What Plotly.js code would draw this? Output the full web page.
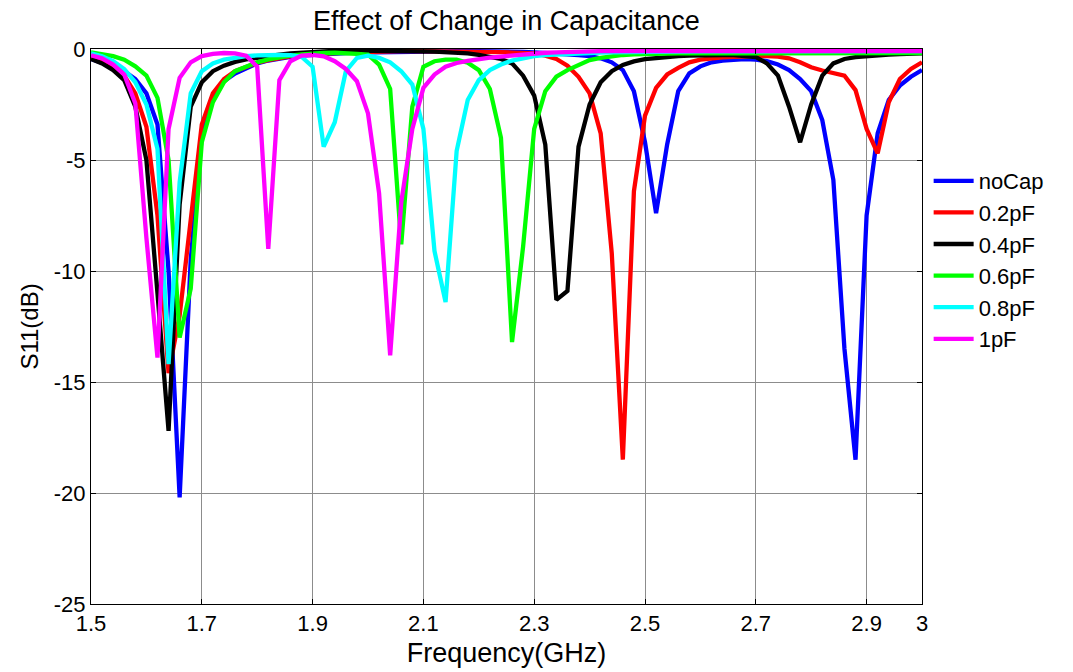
<!DOCTYPE html>
<html>
<head>
<meta charset="utf-8">
<script src="https://cdn.plot.ly/plotly-3.0.1.min.js"></script>
<style>
  html, body { margin: 0; padding: 0; background: #ffffff; }
  #chart { width: 1073px; height: 672px; }
</style>
</head>
<body>
<div id="chart"></div>
<script>
// Frequency grid (GHz)
const freq = [1.50,1.52,1.54,1.56,1.58,1.60,1.62,1.64,1.66,1.68,1.70,1.72,1.74,1.76,1.78,1.80,1.82,1.84,1.86,1.88,
  1.90,1.92,1.94,1.96,1.98,2.00,2.02,2.04,2.06,2.08,2.10,2.12,2.14,2.16,2.18,2.20,2.22,2.24,2.26,2.28,
  2.30,2.32,2.34,2.36,2.38,2.40,2.42,2.44,2.46,2.48,2.50,2.52,2.54,2.56,2.58,2.60,2.62,2.64,2.66,2.68,
  2.70,2.72,2.74,2.76,2.78,2.80,2.82,2.84,2.86,2.88,2.90,2.92,2.94,2.96,2.98,3.00];

const seriesNames = ["noCap", "0.2pF", "0.4pF", "0.6pF", "0.8pF", "1pF"];

const noCap = [-0.45,-0.6,-0.8,-1.0,-1.35,-2.0,-3.4,-10.0,-20.2,-9.5,
  -3.9,-2.2,-1.45,-1.1,-0.85,-0.65,-0.52,-0.42,-0.35,-0.3,
  -0.26,-0.23,-0.2,-0.18,-0.16,-0.15,-0.13,-0.12,-0.11,-0.1,
  -0.1,-0.09,-0.09,-0.09,-0.09,-0.1,-0.1,-0.11,-0.12,-0.13,
  -0.15,-0.17,-0.2,-0.23,-0.27,-0.32,-0.42,-0.6,-0.95,-1.9,
  -4.2,-7.4,-4.3,-1.9,-1.1,-0.78,-0.6,-0.52,-0.48,-0.46,
  -0.48,-0.55,-0.7,-0.95,-1.35,-1.9,-3.2,-5.9,-13.5,-18.5,
  -7.5,-3.8,-2.3,-1.65,-1.25,-0.95];

const cap02 = [-0.4,-0.55,-0.8,-1.2,-2.0,-3.5,-7.5,-14.6,-12.0,-7.5,
  -3.4,-2.0,-1.35,-1.0,-0.8,-0.62,-0.5,-0.4,-0.33,-0.27,
  -0.23,-0.2,-0.18,-0.16,-0.14,-0.13,-0.12,-0.11,-0.1,-0.1,
  -0.1,-0.1,-0.1,-0.1,-0.11,-0.12,-0.13,-0.14,-0.16,-0.18,
  -0.2,-0.3,-0.45,-0.75,-1.25,-2.0,-3.8,-9.2,-18.5,-6.4,
  -3.0,-1.75,-1.15,-0.85,-0.6,-0.48,-0.42,-0.38,-0.35,-0.33,
  -0.32,-0.32,-0.34,-0.42,-0.6,-0.82,-0.97,-1.07,-1.2,-1.85,
  -3.6,-4.7,-2.4,-1.35,-0.9,-0.6];

const cap04 = [-0.45,-0.65,-0.95,-1.4,-2.6,-5.0,-11.0,-17.2,-7.0,-2.6,
  -1.5,-1.0,-0.75,-0.58,-0.47,-0.38,-0.3,-0.25,-0.2,-0.16,
  -0.12,-0.1,-0.08,-0.07,-0.07,-0.07,-0.07,-0.08,-0.09,-0.1,
  -0.11,-0.12,-0.14,-0.17,-0.2,-0.26,-0.34,-0.45,-0.65,-1.2,
  -2.1,-4.3,-11.3,-10.9,-4.4,-2.5,-1.5,-1.0,-0.72,-0.56,
  -0.46,-0.4,-0.35,-0.32,-0.3,-0.28,-0.27,-0.27,-0.28,-0.3,
  -0.36,-0.65,-1.2,-2.6,-4.2,-2.5,-1.2,-0.65,-0.45,-0.37,
  -0.32,-0.28,-0.25,-0.23,-0.21,-0.2];

const cap06 = [-0.15,-0.22,-0.32,-0.48,-0.78,-1.2,-2.2,-5.0,-13.0,-10.8,
  -4.2,-2.4,-1.5,-1.0,-0.78,-0.6,-0.47,-0.37,-0.3,-0.24,
  -0.2,-0.18,-0.17,-0.18,-0.22,-0.25,-0.7,-1.8,-8.8,-2.6,
  -0.8,-0.55,-0.48,-0.48,-0.62,-0.95,-1.8,-4.0,-13.2,-8.9,
  -3.6,-1.9,-1.25,-0.95,-0.7,-0.5,-0.4,-0.32,-0.27,-0.24,
  -0.22,-0.21,-0.2,-0.2,-0.2,-0.2,-0.2,-0.2,-0.2,-0.2,
  -0.2,-0.2,-0.2,-0.2,-0.2,-0.2,-0.2,-0.2,-0.2,-0.2,
  -0.2,-0.2,-0.2,-0.19,-0.19,-0.19];

const cap08 = [-0.2,-0.33,-0.55,-0.9,-1.5,-2.5,-4.5,-14.2,-6.0,-2.0,
  -1.0,-0.65,-0.48,-0.38,-0.32,-0.29,-0.27,-0.27,-0.28,-0.35,
  -0.8,-4.4,-3.3,-1.0,-0.4,-0.3,-0.4,-0.6,-1.0,-1.6,
  -3.6,-9.1,-11.4,-4.6,-2.3,-1.4,-0.95,-0.7,-0.52,-0.4,
  -0.32,-0.27,-0.24,-0.21,-0.19,-0.17,-0.16,-0.15,-0.14,-0.13,
  -0.13,-0.12,-0.12,-0.12,-0.11,-0.11,-0.11,-0.11,-0.1,-0.1,
  -0.1,-0.1,-0.1,-0.1,-0.1,-0.1,-0.1,-0.1,-0.1,-0.1,
  -0.1,-0.1,-0.1,-0.1,-0.1,-0.1];

const cap1 = [-0.28,-0.42,-0.7,-1.15,-2.45,-8.5,-13.9,-3.6,-1.3,-0.6,
  -0.32,-0.22,-0.18,-0.2,-0.3,-0.8,-9.0,-1.4,-0.55,-0.3,
  -0.27,-0.33,-0.55,-0.9,-1.45,-2.9,-6.5,-13.8,-6.9,-3.6,
  -1.75,-1.15,-0.8,-0.63,-0.53,-0.45,-0.39,-0.34,-0.29,-0.24,
  -0.2,-0.17,-0.15,-0.13,-0.12,-0.11,-0.1,-0.1,-0.1,-0.1,
  -0.1,-0.1,-0.1,-0.1,-0.1,-0.1,-0.1,-0.1,-0.1,-0.1,
  -0.1,-0.1,-0.1,-0.1,-0.1,-0.1,-0.1,-0.1,-0.1,-0.1,
  -0.1,-0.1,-0.1,-0.1,-0.1,-0.1];

const xTickVals = [1.5, 1.7, 1.9, 2.1, 2.3, 2.5, 2.7, 2.9, 3];
const xTickText = ["1.5", "1.7", "1.9", "2.1", "2.3", "2.5", "2.7", "2.9", "3"];
const yTickVals = [0, -5, -10, -15, -20, -25];
const yTickText = ["0", "-5", "-10", "-15", "-20", "-25"];

const allSeries = [noCap, cap02, cap04, cap06, cap08, cap1];
const colors = ["#0000ff", "#ff0000", "#000000", "#00ff00", "#00ffff", "#ff00ff"];

const FONT = "Liberation Sans, Arial, sans-serif";

const traces = allSeries.map((ys, i) => ({
  type: "scatter",
  mode: "lines",
  x: freq,
  y: ys,
  name: seriesNames[i],
  legendgroup: "g" + i,
  line: { color: colors[i], width: 4.3 }
}));

const axisCommon = {
  showline: true,
  linecolor: "#000000",
  linewidth: 1,
  mirror: "ticks",
  ticks: "inside",
  ticklen: 5,
  tickwidth: 1,
  tickcolor: "#000000",
  showgrid: true,
  gridcolor: "#8c8c8c",
  gridwidth: 1,
  zeroline: false,
  automargin: false,
  tickfont: { family: FONT, size: 22, color: "#000000" }
};

const layout = {
  width: 1073,
  height: 672,
  paper_bgcolor: "#ffffff",
  plot_bgcolor: "#ffffff",
  margin: { l: 91, r: 151, t: 49, b: 68 },
  title: {
    text: "Effect of Change in Capacitance",
    font: { family: FONT, size: 27, color: "#000000" },
    x: 0.5, xref: "paper", xanchor: "center",
    y: 0.97, yref: "container", yanchor: "middle"
  },
  xaxis: Object.assign({}, axisCommon, {
    range: [1.5, 3.0],
    tickmode: "array",
    tickvals: xTickVals,
    ticktext: xTickText,
    title: { text: "Frequency(GHz)", font: { family: FONT, size: 27, color: "#000000" }, standoff: 7 }
  }),
  yaxis: Object.assign({}, axisCommon, {
    range: [-25, 0],
    tickmode: "array",
    tickvals: yTickVals,
    ticktext: yTickText,
    title: { text: "S11(dB)", font: { family: FONT, size: 24, color: "#000000" }, standoff: 8 }
  }),
  showlegend: true,
  legend: {
    x: 1.008, xanchor: "left",
    y: 0.80, yanchor: "top",
    font: { family: FONT, size: 22, color: "#000000" },
    bgcolor: "rgba(255,255,255,0)",
    borderwidth: 0,
    tracegroupgap: 3,
    itemwidth: 40,
    traceorder: "normal"
  }
};

Plotly.newPlot("chart", traces, layout, { displayModeBar: false, staticPlot: true });
</script>
</body>
</html>
